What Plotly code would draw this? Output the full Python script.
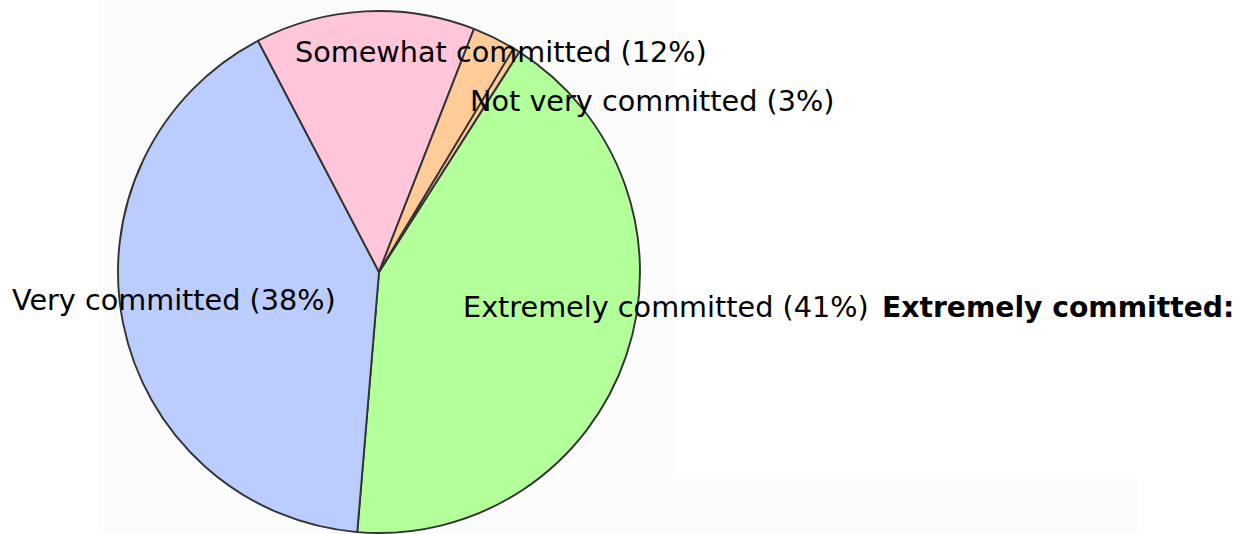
import plotly.graph_objects as go

W, H = 1239, 534

# Data (slice order clockwise starting at the green slice)
categories = ["Extremely committed", "Very committed", "Somewhat committed",
              "Not very committed", "Not at all committed"]
values = [42.3, 41.0, 13.6, 2.7, 0.4]
label_texts = ["Extremely committed (41%)", "Very committed (38%)",
               "Somewhat committed (12%)", "Not very committed (3%)", ""]
colors = ["#b3ff99", "#bbccff", "#ffc6d9", "#ffcc99", "#ffcc99"]

def px(x):
    return x / W

def py(y):
    return 1 - y / H

fig = go.Figure()

# pie geometry: centre ~(379,272) px, radius ~261 px (screen coords)
cx, cy, r = 379, 272, 261
fig.add_trace(go.Pie(
    labels=categories,
    values=values,
    marker=dict(colors=colors, line=dict(color="#333333", width=1.9)),
    sort=False,
    direction="clockwise",
    rotation=32.5,
    textinfo="none",
    textposition="none",
    showlegend=False,
    hoverinfo="label+percent",
    domain=dict(x=[px(cx - r), px(cx + r)], y=[py(cy + r), py(cy - r)]),
))

# faint background panels
shapes = [
    dict(type="rect", xref="paper", yref="paper", x0=px(97), x1=px(677), y0=0, y1=1,
         fillcolor="#fcfcfc", line=dict(width=0), layer="below"),
    dict(type="rect", xref="paper", yref="paper", x0=px(677), x1=px(1138), y0=0, y1=py(478),
         fillcolor="#fcfcfc", line=dict(width=0), layer="below"),
]

font = "DejaVu Sans"
fs = 28.7
# label positions (left edge x px, centre y px)
label_pos = [(461, 307), (10, 300), (293, 52), (468, 101)]
annotations = []
for txt, (lx, ly) in zip(label_texts[:4], label_pos):
    annotations.append(dict(text=txt, x=px(lx), y=py(ly), xref="paper", yref="paper",
                            xanchor="left", yanchor="middle", showarrow=False,
                            font=dict(family=font, size=fs, color="#000000")))
annotations.append(dict(text="<b>" + categories[0] + ":</b>", x=px(880), y=py(307),
                        xref="paper", yref="paper", xanchor="left", yanchor="middle",
                        showarrow=False, font=dict(family=font, size=28.2, color="#000000")))

fig.update_layout(
    width=W, height=H,
    margin=dict(l=0, r=0, t=0, b=0),
    paper_bgcolor="#ffffff",
    plot_bgcolor="#ffffff",
    shapes=shapes,
    annotations=annotations,
)

fig.write_html("out.html", config={"displayModeBar": False},
               post_script="document.body.style.margin='0';document.body.style.overflow='hidden';")
